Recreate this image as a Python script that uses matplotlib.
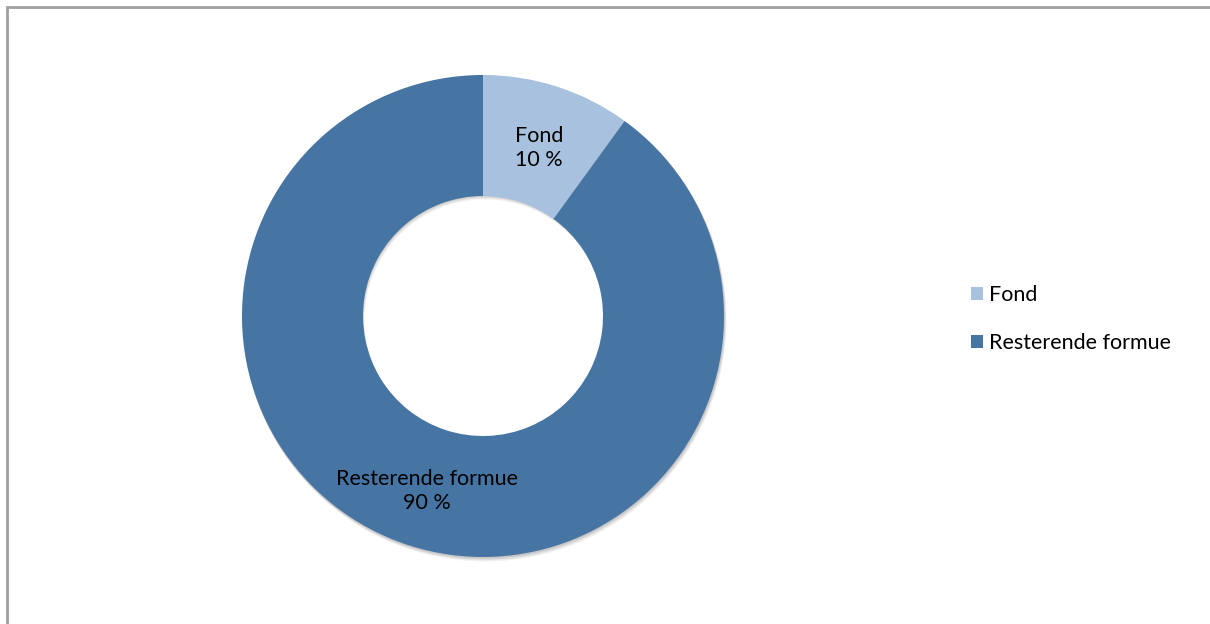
import matplotlib.pyplot as plt
from matplotlib.patches import Rectangle, Wedge

labels = ['Fond', 'Resterende formue']
shares = [10, 90]
colors = ['#A7C1DF', '#4675A3']

W, H = 1210, 624
fig = plt.figure(figsize=(W / 100, H / 100), dpi=100)
ax = fig.add_axes([0, 0, 1, 1])

cx, cy = 483, H - 316
r_out, ring = 241, 121

# soft shadow under the ring
for i, a in enumerate([0.05, 0.05, 0.06, 0.07]):
    off = 4 - i
    ax.add_patch(Wedge((cx + off * 0.5, cy - off), r_out + 0.5, 0, 360,
                       width=ring, color='black', alpha=a, lw=0, zorder=1))

wedges, texts = ax.pie(shares, colors=colors, startangle=90, counterclock=False,
                       radius=r_out, center=(cx, cy),
                       wedgeprops=dict(width=ring, linewidth=0, zorder=2),
                       frame=True)
ax.set_xlim(0, W)
ax.set_ylim(0, H)
ax.set_aspect('equal')
ax.axis('off')

font = 'Lato'
fs = 15.5

# labels in the middle of each ring segment
for lab, val, pos in zip(labels, shares, [(539, 148), (427, 491)]):
    ax.text(pos[0], H - pos[1], f'{lab}\n{val} %', ha='center', va='center',
            fontsize=fs, family=font, color='black', linespacing=1.3, zorder=3)

ax.legend(wedges, labels, loc='center left',
          bbox_to_anchor=(952 / W, 1 - 319 / H), frameon=False,
          prop=dict(family=font, size=fs), handlelength=0.56,
          handleheight=0.56, handletextpad=0.28, labelspacing=1.27)

fig.patches.append(Rectangle((6.5 / W, -0.1), 1.2, (H - 6.5) / H + 0.1,
                             transform=fig.transFigure, fill=False,
                             edgecolor='#A0A0A0', linewidth=2))

fig.savefig('out.png', dpi=100, facecolor='white')
